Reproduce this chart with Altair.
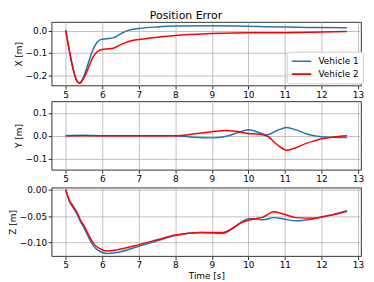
import altair as alt
import pandas as pd

# ---- data ----
x_t = [5.0, 5.1, 5.2, 5.28, 5.33, 5.37, 5.41, 5.47, 5.55, 5.65, 5.75, 5.85, 5.95, 6.1, 6.3, 6.5,
       6.7, 7.0, 7.5, 8.0, 9.0, 10.0, 11.0, 12.0, 12.7]
x_v1 = [0.0, -0.09, -0.17, -0.215, -0.23, -0.234, -0.23, -0.215, -0.18, -0.13, -0.085, -0.055,
        -0.041, -0.037, -0.033, -0.015, 0.0, 0.009, 0.016, 0.02, 0.021, 0.019, 0.015, 0.013, 0.012]
x_v2 = [0.0, -0.09, -0.17, -0.216, -0.231, -0.236, -0.233, -0.22, -0.195, -0.155, -0.118, -0.097,
        -0.087, -0.083, -0.079, -0.064, -0.05, -0.04, -0.03, -0.022, -0.014, -0.01, -0.01, -0.007,
        -0.005]

y_t = [5.0, 5.5, 6.0, 7.0, 8.0, 8.5, 9.0, 9.4, 9.7, 10.0, 10.25, 10.5, 10.8, 11.05, 11.3,
       11.6, 11.8, 12.0, 12.3, 12.7]
y_v1 = [0.0, 0.002, 0.0, 0.0, 0.0, -0.006, -0.009, -0.002, 0.013, 0.026, 0.017, 0.004, 0.024, 0.036,
        0.026, 0.008, 0.0, -0.004, -0.006, -0.007]
y_v2 = [0.0, 0.0, 0.0, 0.0, 0.0, 0.008, 0.018, 0.023, 0.019, 0.01, 0.008, 0.0, -0.04, -0.063,
        -0.052, -0.032, -0.022, -0.013, -0.006, 0.0]

z_t = [5.0, 5.1, 5.2, 5.3, 5.4, 5.5, 5.6, 5.7, 5.8, 5.95, 6.12, 6.4, 7.0, 7.5, 8.0, 8.7, 9.3,
       9.55, 9.8, 10.0, 10.2, 10.4, 10.7, 11.0, 11.3, 11.8, 12.0, 12.4, 12.7]
z_v1 = [0.0, -0.022, -0.034, -0.045, -0.06, -0.072, -0.086, -0.1, -0.11, -0.117, -0.121, -0.119,
        -0.107, -0.097, -0.087, -0.081, -0.083, -0.074, -0.062, -0.055, -0.055, -0.057, -0.053,
        -0.056, -0.059, -0.055, -0.052, -0.046, -0.04]
z_v2 = [0.0, -0.02, -0.031, -0.042, -0.057, -0.068, -0.082, -0.095, -0.105, -0.112, -0.116, -0.114,
        -0.104, -0.095, -0.086, -0.081, -0.081, -0.074, -0.063, -0.058, -0.055, -0.052, -0.042,
        -0.047, -0.053, -0.054, -0.052, -0.046, -0.041]

vehicles = ["Vehicle 1", "Vehicle 2"]
colors = ["#1f77b4", "#ff0000"]


def frame(t, a, b):
    rows = [{"t": ti, "v": vi, "veh": vehicles[0]} for ti, vi in zip(t, a)]
    rows += [{"t": ti, "v": vi, "veh": vehicles[1]} for ti, vi in zip(t, b)]
    return pd.DataFrame(rows)


xdom = [4.615, 13.085]
W = 312
H1, H2, H3 = 64, 69, 69


def panel(df, ytitle, ydom, yvals, yfmt, h, last=False, legend=False):
    xaxis = alt.Axis(values=list(range(5, 14)), format="d",
                     title="Time [s]" if last else None)
    leg = None
    if legend:
        leg = alt.Legend(title=None, orient="none", legendX=W - 75, legendY=h - 34,
                         symbolType="stroke", symbolStrokeWidth=1.6, symbolSize=380,
                         clipHeight=11,
                         labelFontSize=9, labelFont="DejaVu Sans", labelColor="#000000",
                         fillColor="white", strokeColor="#cccccc", cornerRadius=3,
                         padding=4, rowPadding=2, labelOffset=6)
    return alt.Chart(df).mark_line(strokeWidth=1.5, interpolate="monotone").encode(
        x=alt.X("t:Q", scale=alt.Scale(domain=xdom, nice=False, zero=False), axis=xaxis),
        y=alt.Y("v:Q", scale=alt.Scale(domain=ydom, nice=False, zero=False),
                axis=alt.Axis(values=yvals, format=yfmt, title=ytitle)),
        color=alt.Color("veh:N", scale=alt.Scale(domain=vehicles, range=colors), legend=leg),
    ).properties(width=W, height=h)


p1 = panel(frame(x_t, x_v1, x_v2), "X [m]", [-0.2457, 0.0377], [-0.2, -0.1, 0.0], ".1f", H1,
           legend=True)
p2 = panel(frame(y_t, y_v1, y_v2), "Y [m]", [-0.148, 0.15], [-0.1, 0.0, 0.1], ".1f", H2)
p3 = panel(frame(z_t, z_v1, z_v2), "Z [m]", [-0.1257, 0.0037], [-0.1, -0.05, 0.0], ".2f", H3,
           last=True)

chart = alt.vconcat(p1, p2, p3, spacing=0).resolve_scale(
    y="independent", x="independent", color="shared"
).properties(
    title=alt.Title("Position Error", fontSize=11, fontWeight="normal", font="DejaVu Sans",
                    offset=1, anchor="middle", color="#000000"),
    padding={"left": 0, "top": 0, "right": 2, "bottom": 0},
).configure_view(
    stroke="#000000", strokeWidth=0.8
).configure_axis(
    domain=False, grid=True, gridColor="#b0b0b0", gridWidth=0.8,
    tickColor="#000000", tickSize=3.5, tickWidth=0.8, labelPadding=1.5,
    labelFont="DejaVu Sans", labelFontSize=9, labelColor="#000000",
    titleFont="DejaVu Sans", titleFontSize=9, titleFontWeight="normal", titleColor="#000000",
    titlePadding=2,
)

chart.save("out.html", embed_options={"renderer": "svg", "actions": False})
